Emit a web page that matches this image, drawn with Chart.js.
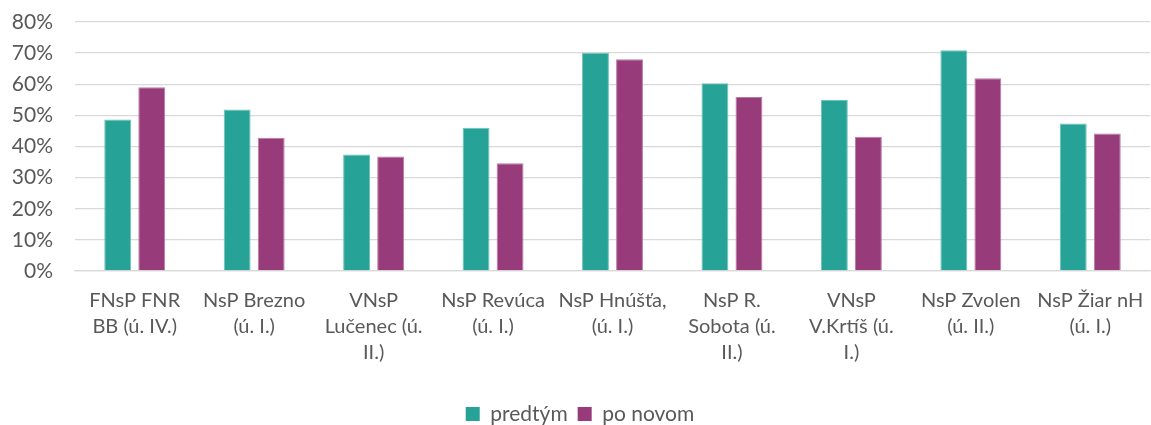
<!DOCTYPE html>
<html>
<head>
<meta charset="utf-8">
<script src="https://cdn.jsdelivr.net/npm/chart.js@4"></script>
<style>
    html, body { margin: 0; padding: 0; background: #fff; }
    #wrap { width: 1151px; height: 425px; }
</style>
</head>
<body>
<div id="wrap"><canvas id="chart" width="1151" height="425"></canvas></div>
<script>
const categories = [
    ['FNsP FNR', 'BB (ú. IV.)'],
    ['NsP Brezno', '(ú. I.)'],
    ['VNsP', 'Lučenec (ú.', 'II.)'],
    ['NsP Revúca', '(ú. I.)'],
    ['NsP Hnúšťa,', '(ú. I.)'],
    ['NsP R.', 'Sobota (ú.', 'II.)'],
    ['VNsP', 'V.Krtíš (ú.', 'I.)'],
    ['NsP Zvolen', '(ú. II.)'],
    ['NsP Žiar nH', '(ú. I.)']
];
const predtym = [48.7, 51.9, 37.4, 46.0, 70.1, 60.3, 54.9, 70.9, 47.4];
const poNovom = [59.0, 42.8, 36.8, 34.6, 68.0, 55.9, 43.1, 61.9, 44.2];
const seriesNames = ['predtým', 'po novom'];
const yTicks = [0, 10, 20, 30, 40, 50, 60, 70, 80];

const textColor = '#595959';
const gridColor = '#d9d9d9';
const fontFamily = 'Lato, "Noto Sans", sans-serif';
const legendPadding = 10;
const legendCenterY = 416;

// push the legend row lower, like the original
const legendShift = {
    id: 'legendShift',
    afterLayout: (chart) => {
        const lg = chart.legend;
        if (!lg) return;
        const lineH = 21 * 1.2;
        const dy = legendCenterY - (lg.top + legendPadding + lineH / 2);
        lg.top += dy;
        lg.bottom += dy;
        if (lg.legendHitBoxes) lg.legendHitBoxes.forEach(b => { b.top += dy; });
    }
};

new Chart(document.getElementById('chart'), {
    type: 'bar',
    data: {
        labels: categories,
        datasets: [{
            label: seriesNames[0],
            data: predtym,
            backgroundColor: '#26a296',
            borderColor: '#6cc3bb',
            borderWidth: 1,
            categoryPercentage: 0.57,
            barPercentage: 0.79
        }, {
            label: seriesNames[1],
            data: poNovom,
            backgroundColor: '#983b7b',
            borderColor: '#bb7aa6',
            borderWidth: 1,
            categoryPercentage: 0.57,
            barPercentage: 0.79
        }]
    },
    options: {
        responsive: false,
        animation: false,
        layout: {
            padding: { top: 22, right: 1, left: 10, bottom: 0 }
        },
        scales: {
            y: {
                min: 0,
                max: 80,
                afterBuildTicks: (axis) => {
                    axis.ticks = yTicks.map(v => ({ value: v }));
                },
                afterFit: (axis) => {
                    axis.width = 65;
                    axis.paddingTop = 12;
                    axis.paddingBottom = 0;
                },
                ticks: {
                    callback: (v) => v + '%',
                    color: textColor,
                    font: { family: fontFamily, size: 21 },
                    padding: 22
                },
                grid: {
                    color: gridColor,
                    lineWidth: 1.3,
                    drawTicks: false
                },
                border: { display: false }
            },
            x: {
                afterFit: (axis) => {
                    axis.paddingLeft = 0;
                    axis.paddingRight = 0;
                    axis.height += 9;
                },
                ticks: {
                    color: textColor,
                    font: { family: fontFamily, size: 20, lineHeight: 1.3 },
                    maxRotation: 0,
                    autoSkip: false,
                    padding: 9
                },
                grid: { display: false },
                border: { color: gridColor, width: 1.3 }
            }
        },
        plugins: {
            legend: {
                position: 'bottom',
                labels: {
                    color: textColor,
                    font: { family: fontFamily, size: 21 },
                    boxWidth: 14,
                    boxHeight: 14,
                    padding: legendPadding,
                    generateLabels: (chart) => chart.data.datasets.map((ds, i) => ({
                        text: ds.label,
                        fillStyle: ds.backgroundColor,
                        strokeStyle: ds.backgroundColor,
                        lineWidth: 0,
                        fontColor: textColor,
                        datasetIndex: i
                    }))
                }
            },
            tooltip: { enabled: false }
        }
    },
    plugins: [legendShift]
});
</script>
</body>
</html>
